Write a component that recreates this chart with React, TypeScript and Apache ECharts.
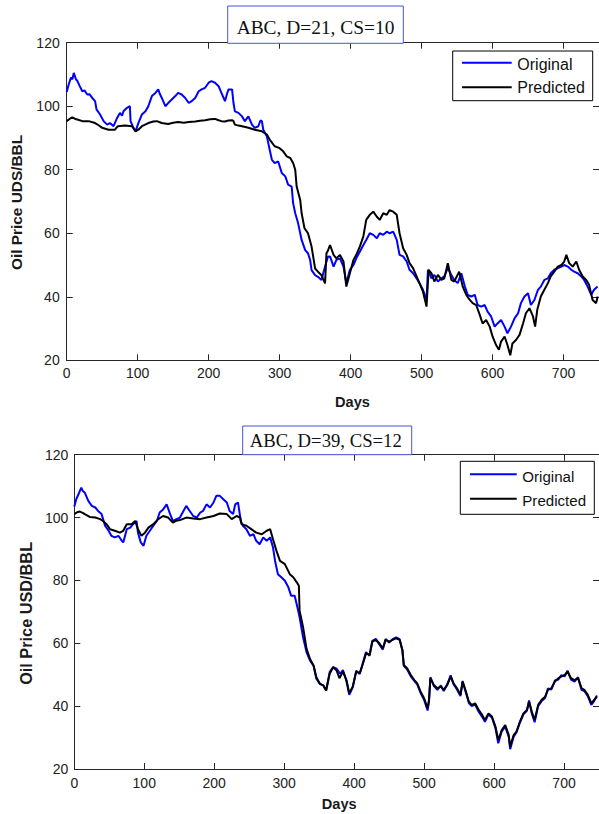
import React, { useEffect, useRef } from "react";
import * as echarts from "echarts";

// Day ticks and price ticks shared by both panels
const dayTicks = [0, 100, 200, 300, 400, 500, 600, 700];
const priceTicks = [20, 40, 60, 80, 100, 120];

// Panel 1: D=21, CS=10 — [day, price]
const original1: [number, number][] = [
  [0,104.5],[3,107],[6,109],[8,108.5],[10,110.5],[13,108.5],[15,108],[18,106.5],[22,104.7],[25,105],[29,103.7],[32,103.8],[36,102.6],[40,101.6],[42,99],[47,97.4],[52,95.3],[57,94.2],[61,94.7],[66,93.7],[71,96.3],[75,97.9],[78,97],[80,98.4],[85,99.5],[89,100],[90,95.3],[94,93.2],[97,92.1],[101,94.7],[106,97.4],[111,98.4],[115,100],[120,103.2],[125,104.2],[129,105.3],[131,104],[134,102.6],[139,100],[143,101],[148,102.1],[153,103.2],[157,104.2],[162,103.7],[167,102.6],[172,101],[176,101.6],[181,102.6],[186,104.7],[190,105.3],[195,105.8],[200,107.4],[204,107.9],[209,107.4],[214,106.3],[218,104.2],[223,101.6],[226,104],[228,105.3],[233,105.3],[235,101],[237,98.4],[242,97.9],[247,96.8],[251,95.3],[256,96.8],[261,94.2],[265,93.2],[270,93.7],[273,95.5],[275,95.3],[277,92.6],[282,90.5],[286,86.3],[289,83.2],[293,82.1],[298,82.6],[303,79],[308,77.9],[312,75.3],[317,74.7],[319,69.5],[322,66.3],[326,63.2],[331,57.9],[336,54.7],[340,53.7],[343,51.6],[345,48.4],[350,46.8],[354,46.3],[359,45.3],[364,49.5],[368,52.6],
  [371,52.7],[376,49.5],[380,51.6],[385,52.1],[390,49.5],[394,44.3],[399,48.5],[404,50],[408,52.1],[413,54.2],[418,56.3],[422,57.9],[427,60],[432,59.5],[437,58.4],[441,60],[446,59.5],[451,60.5],[455,60],[460,60.5],[465,57.9],[469,53.2],[474,52.7],[479,51.1],[483,48.5],[488,47.4],[493,45.8],[497,44.3],[502,42.2],[507,39],[509,48.5],[514,45.8],[518,46.9],[523,44.8],[528,45.8],[532,46.4],[537,49],[542,46.9],[546,45.3],[551,44.3],[556,47.4],[561,43.2],[565,40.6],[570,40.1],[575,40.6],[579,37.4],[584,36.9],[589,37.4],[593,35.3],[598,33.8],[603,30.6],[607,31.6],[612,32.7],[617,30.6],[621,28.5],[626,30.6],[631,33.2],[636,34.8],[640,38],[645,40.1],[650,41.1],[654,37.4],[659,39],[664,42.2],[668,43.2],[673,45.3],[678,45.8],[682,47.4],[687,48.5],[692,49],[697,49.5],[701,50],[706,49.5],[711,48.5],[715,47.9],[720,47.4],[725,46.4],[729,45.3],[734,43.2],[739,40.6],[743,42.2],[748,43.2],
];
const predicted1: [number, number][] = [
  [0,95.3],[4,96],[8,96.5],[12,96],[15,95.8],[22,95.3],[31,95.3],[40,94.7],[45,94],[50,93.2],[59,92.6],[68,92.6],[72,93.7],[82,93.9],[92,93.7],[97,92.1],[101,92.6],[106,93.7],[115,94.7],[122,95.2],[127,95.3],[134,94.7],[143,94.4],[150,94.8],[157,95],[165,94.8],[172,95],[181,95.2],[188,95.4],[195,95.6],[202,95.9],[209,96],[214,95.6],[218,95.3],[223,95.2],[228,95.5],[233,95.6],[235,95.3],[237,94.2],[242,93.9],[247,93.7],[256,93.2],[265,92.6],[275,92.1],[282,91.1],[286,89.5],[293,87.4],[300,86.8],[305,85.8],[310,84.2],[315,83.7],[319,82.1],[322,80],[324,74.7],[329,70.5],[331,66.3],[335,61.6],[340,60],[345,55.8],[350,48.9],[354,47.9],[359,46.8],[364,44.2],[366,53.7],[368,54.5],
  [371,56.3],[376,53.2],[380,52.1],[385,53.2],[390,51.1],[394,43.2],[399,47.4],[404,51.6],[408,53.2],[413,55.8],[418,59],[422,64.2],[427,65.8],[432,66.8],[437,65.2],[441,64.2],[446,66.3],[451,65.8],[455,67.3],[460,66.8],[465,65.8],[469,60],[474,55.3],[479,53.2],[483,50.6],[488,49],[493,46.4],[497,44.3],[502,41.6],[507,36.9],[510,48.5],[514,47.4],[518,44.8],[523,46.9],[528,45.3],[532,45.8],[537,50.6],[542,45.3],[546,44.8],[553,47.9],[558,43.2],[563,40.6],[568,39],[572,38],[577,37.4],[582,34.3],[586,31.6],[591,32.7],[596,30.6],[600,27.5],[605,24.8],[609,23.3],[612,25.9],[617,27.5],[621,24.8],[625,21.6],[628,25.3],[633,26.4],[638,28],[643,31.6],[647,34.8],[652,36.4],[657,33.8],[660,30.6],[663,35.9],[668,40.1],[673,42.2],[678,44.3],[682,46.4],[687,47.9],[692,49.5],[697,50],[701,51.1],[704,53.2],[708,50.6],[713,49.5],[718,51.1],[722,48.5],[727,46.4],[732,45.3],[736,43.8],[741,39],[746,38],[748,40.1],
];

// Panel 2: D=39, CS=12 — [day, price]
const original2: [number, number][] = [
  [0,103.5],[3,106],[6,107.4],[8,108.5],[10,109.5],[12,108.5],[15,107.9],[20,105.3],[25,103.7],[30,103.2],[34,102.1],[39,101.1],[44,97.4],[49,95.8],[53,94.2],[58,93.7],[63,94.2],[68,92.6],[70,92.1],[75,96.3],[80,96.8],[84,97.9],[89,98.9],[91,95.2],[95,92.1],[99,91],[103,94.2],[108,95.8],[113,97.4],[118,98.9],[122,101.6],[127,102.6],[132,104.2],[137,101.1],[141,98.9],[146,99.5],[151,100],[156,102.1],[160,103.7],[165,102.1],[170,100.5],[175,100],[180,101.6],[184,102.1],[189,104.2],[194,103.2],[199,104.8],[203,106.9],[208,106.9],[213,105.8],[218,104.8],[222,102.1],[227,101.1],[230,104.2],[234,104.8],[238,98.9],[241,97.4],[246,96.3],[251,94.2],[256,94.7],[260,92.6],[265,91.5],[270,93.7],[275,92.6],[280,93.7],[284,90.5],[287,86.2],[291,82],[296,81],[301,79.9],[306,77.8],[310,75.1],[315,75.1],[320,70.4],[322,68.3],[327,61.9],[332,57.1],[337,54.5],[342,52.9],[346,48.7],[351,47.1],[356,46.6],[360,45],[365,50.8],[370,52.4],[375,51.9],[380,50.3],
  [384,51.5],[389,48],[393,43.6],[398,46],[403,51.3],[408,50.2],[412,53.4],[417,57.2],[422,56],[426,60.8],[431,61.4],[436,59.6],[441,58],[445,61.4],[450,60.2],[455,61.3],[460,61.9],[465,61.3],[469,57.6],[471,52.8],[476,51.6],[481,49.5],[486,48],[490,47],[495,44.2],[500,42],[505,38.6],[507,41.5],[509,49.2],[514,46.4],[519,45.2],[524,46.6],[528,44.8],[533,46.9],[538,49.8],[542,47],[547,45.3],[552,43.2],[555,48],[559,44.8],[564,41],[568,40],[573,40.5],[578,38.2],[583,36.6],[587,35],[592,37.4],[597,36.3],[602,33],[606,28.2],[611,32],[616,33.5],[621,30.2],[623,26.3],[628,30.3],[632,31.6],[637,34.8],[642,37.4],[647,38.5],[650,41.8],[654,37.6],[658,34.9],[663,40],[668,41.6],[673,42.6],[677,45.6],[682,45.3],[687,48.2],[692,48.5],[696,49.8],[701,49.5],[705,51.3],[710,48.4],[715,47.8],[720,49.2],[725,45.2],[729,44.8],[734,43.2],[739,40.4],[743,41.6],[747,43.4],
];
const predicted2: [number, number][] = [
  [0,101.1],[4,101.7],[8,101.9],[12,101.5],[15,101.1],[22,100.2],[30,100],[37,99.5],[41,98.9],[46,97.9],[51,96.3],[58,95.8],[65,95.2],[70,95.8],[75,97.9],[82,97.9],[87,98.9],[91,96.3],[96,94.2],[101,95.2],[106,96.8],[113,97.9],[120,99.5],[127,100.5],[134,100],[141,98.4],[146,99],[151,99.2],[160,100],[170,99.7],[180,99.5],[189,100],[199,100.5],[208,101.3],[218,101.1],[225,99.5],[232,100.5],[237,100],[239,97.9],[246,97.4],[253,96.3],[260,95.2],[268,94.7],[275,95.8],[280,96.3],[284,93.1],[289,89.4],[294,86.2],[301,85.2],[308,82],[313,81],[318,79.4],[321,78.3],[322,70.4],[327,65.1],[332,58.2],[337,55],[342,52.9],[346,49.2],[351,47.1],[356,46.6],[360,45],[365,50.3],[370,52.4],[375,51.3],
  [379,48.9],[384,51],[389,48.3],[393,44.1],[398,46.2],[403,51],[408,50.5],[412,53.1],[417,56.8],[422,56.3],[426,60.5],[431,61.1],[436,60],[441,58.4],[445,61.1],[450,60.5],[455,61.1],[460,61.6],[465,61.1],[469,57.9],[471,53.1],[476,52],[481,49.9],[486,48.3],[490,47.3],[495,44.6],[500,42.5],[505,39.3],[507,42],[509,48.9],[514,46.7],[519,45.7],[524,46.2],[528,45.2],[533,46.7],[538,49.4],[542,47.3],[547,45.7],[552,43.6],[555,47.8],[559,45.2],[564,41.4],[568,40.4],[573,40.9],[578,38.8],[583,37.2],[587,35.6],[592,37.7],[597,36.7],[602,33.5],[606,29.2],[611,32.4],[616,34],[621,30.8],[623,27.1],[628,30.8],[632,31.9],[637,35.1],[642,37.7],[647,38.8],[650,41.4],[654,38.2],[658,35.6],[663,40.4],[668,42],[673,43],[677,45.2],[682,45.7],[687,47.8],[692,48.9],[696,49.4],[701,49.9],[705,51],[710,48.9],[715,48.3],[720,48.9],[725,45.7],[729,45.2],[734,43.6],[739,40.9],[743,42],[747,43],
];

const seriesNames = ["Original", "Predicted"];
const panelTitles = ["ABC, D=21, CS=10", "ABC, D=39, CS=12"];
const yAxisTitles = ["Oil Price UDS/BBL", "Oil Price USD/BBL"];
const xAxisTitle = "Days";

const SANS = "'Liberation Sans', Arial, sans-serif";
const SERIF = "'Liberation Serif', 'Times New Roman', serif";
const AXIS = "#262626";
const BLUE = "#0000ff";

interface Panel {
  left: number; top: number; width: number; height: number;
  xLabelMargin: number; yLabelMargin: number;
  title: { x: number; y: number; w: number; h: number; tx: number; ty: number; size: number };
  legend: { x: number; y: number; w: number; h: number; lx0: number; lx1: number; y1: number; y2: number; tx: number; t1: number; t2: number; size: number };
  yName: { x: number; y: number; size: number };
  xName: { x: number; y: number; size: number };
}

const panels: Panel[] = [
  {
    left: 66.7, top: 42.7, width: 533.3, height: 317.6, xLabelMargin: 6, yLabelMargin: 7,
    title: { x: 227.7, y: 6, w: 175.6, h: 37.3, tx: 315.5, ty: 27, size: 19.4 },
    legend: { x: 452.7, y: 51, w: 140, h: 49.7, lx0: 462, lx1: 511.7, y1: 62.7, y2: 87.3, tx: 517.3, t1: 64.5, t2: 87.5, size: 16 },
    yName: { x: 16, y: 202.5, size: 15.4 },
    xName: { x: 352.5, y: 402, size: 14.6 },
  },
  {
    left: 74.3, top: 454.7, width: 525, height: 314.3, xLabelMargin: 7, yLabelMargin: 6,
    title: { x: 242.7, y: 426, w: 169, h: 28.7, tx: 325.8, ty: 440, size: 18.7 },
    legend: { x: 460.3, y: 461.3, w: 134, h: 53, lx0: 470, lx1: 516.7, y1: 474.3, y2: 498.7, tx: 522.3, t1: 476.3, t2: 500, size: 15.1 },
    yName: { x: 25.8, y: 613.4, size: 16.3 },
    xName: { x: 339.2, y: 803.5, size: 14.6 },
  },
];

function buildOption() {
  const grid: any[] = [];
  const xAxis: any[] = [];
  const yAxis: any[] = [];
  const series: any[] = [];
  const graphic: any[] = [];
  const data = [
    [original1, predicted1],
    [original2, predicted2],
  ];

  panels.forEach((p, i) => {
    grid.push({ left: p.left, top: p.top, width: p.width, height: p.height, containLabel: false });
    const baseLine = { show: true, onZero: false, lineStyle: { color: AXIS, width: 1 } };
    const baseTick = { show: true, inside: true, length: 6, lineStyle: { color: AXIS, width: 1 } };
    // bottom (labelled) and top (mirror) day axes
    xAxis.push({
      type: "value", gridIndex: i, position: "bottom", min: 0, max: 750, interval: 100,
      axisLine: baseLine, axisTick: baseTick, splitLine: { show: false },
      axisLabel: {
        show: true, margin: p.xLabelMargin, color: "#222", fontFamily: SANS, fontSize: 14,
        showMaxLabel: false,
        formatter: (v: number) => (dayTicks.includes(v) ? String(v) : ""),
      },
    });
    xAxis.push({
      type: "value", gridIndex: i, position: "top", min: 0, max: 750, interval: 100,
      axisLine: baseLine, axisTick: baseTick, splitLine: { show: false }, axisLabel: { show: false },
    });
    // left (labelled) and right (mirror) price axes
    yAxis.push({
      type: "value", gridIndex: i, position: "left", min: 20, max: 120, interval: 20,
      axisLine: baseLine, axisTick: baseTick, splitLine: { show: false },
      axisLabel: {
        show: true, margin: p.yLabelMargin, color: "#222", fontFamily: SANS, fontSize: 14,
        formatter: (v: number) => (priceTicks.includes(v) ? String(v) : ""),
      },
    });
    yAxis.push({
      type: "value", gridIndex: i, position: "right", min: 20, max: 120, interval: 20,
      axisLine: baseLine, axisTick: baseTick, splitLine: { show: false }, axisLabel: { show: false },
    });

    const [orig, pred] = data[i];
    series.push({
      name: seriesNames[0], type: "line", xAxisIndex: i * 2, yAxisIndex: i * 2,
      data: orig, symbol: "none", lineStyle: { color: BLUE, width: 2 }, z: 2,
    });
    series.push({
      name: seriesNames[1], type: "line", xAxisIndex: i * 2, yAxisIndex: i * 2,
      data: pred, symbol: "none", lineStyle: { color: "#000", width: 2 }, z: 3,
    });

    // title box sitting on the top edge of the plot
    graphic.push({
      type: "rect", z: 100, shape: { x: p.title.x, y: p.title.y, width: p.title.w, height: p.title.h },
      style: { fill: "#fff", stroke: "#4455dd", lineWidth: 1 },
    });
    graphic.push({
      type: "text", z: 101, x: p.title.tx, y: p.title.ty,
      style: { text: panelTitles[i], fill: "#111", font: `${p.title.size}px ${SERIF}`, align: "center", verticalAlign: "middle" },
    });

    // legend box
    const L = p.legend;
    graphic.push({
      type: "rect", z: 100, shape: { x: L.x, y: L.y, width: L.w, height: L.h },
      style: { fill: "#fff", stroke: "#000", lineWidth: 1 },
    });
    graphic.push({ type: "line", z: 101, shape: { x1: L.lx0, y1: L.y1, x2: L.lx1, y2: L.y1 }, style: { stroke: BLUE, lineWidth: 2 } });
    graphic.push({ type: "line", z: 101, shape: { x1: L.lx0, y1: L.y2, x2: L.lx1, y2: L.y2 }, style: { stroke: "#000", lineWidth: 2 } });
    graphic.push({
      type: "text", z: 101, x: L.tx, y: L.t1,
      style: { text: seriesNames[0], fill: "#111", font: `${L.size}px ${SANS}`, align: "left", verticalAlign: "middle" },
    });
    graphic.push({
      type: "text", z: 101, x: L.tx, y: L.t2,
      style: { text: seriesNames[1], fill: "#111", font: `${L.size}px ${SANS}`, align: "left", verticalAlign: "middle" },
    });

    // axis titles
    graphic.push({
      type: "text", z: 101, x: p.yName.x, y: p.yName.y, rotation: Math.PI / 2,
      style: { text: yAxisTitles[i], fill: "#1a1a1a", font: `bold ${p.yName.size}px ${SANS}`, align: "center", verticalAlign: "middle" },
    });
    graphic.push({
      type: "text", z: 101, x: p.xName.x, y: p.xName.y,
      style: { text: xAxisTitle, fill: "#1a1a1a", font: `bold ${p.xName.size}px ${SANS}`, align: "center", verticalAlign: "middle" },
    });
  });

  return {
    animation: false,
    backgroundColor: "#fff",
    grid, xAxis, yAxis, series, graphic,
  };
}

export default function App() {
  const ref = useRef<HTMLDivElement>(null);
  useEffect(() => {
    if (!ref.current) return;
    const chart = echarts.init(ref.current, undefined, { renderer: "svg" });
    chart.setOption(buildOption() as any);
    return () => chart.dispose();
  }, []);
  return (
    <div
      ref={ref}
      style={{ position: "absolute", left: 0, top: 0, width: 599, height: 814, background: "#fff" }}
    />
  );
}
